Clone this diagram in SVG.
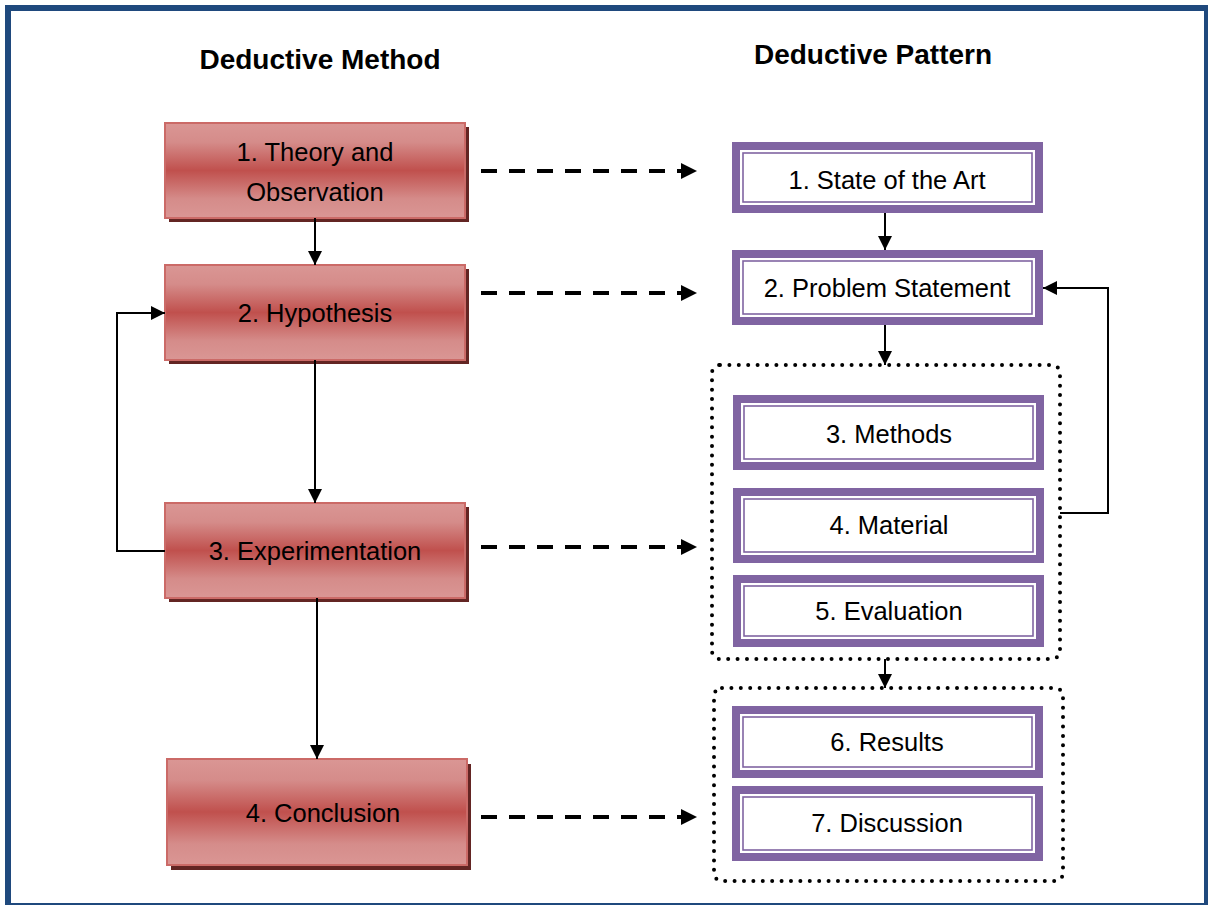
<svg xmlns="http://www.w3.org/2000/svg" width="1208" height="905" viewBox="0 0 1208 905">
  <defs>
    <linearGradient id="redFill" x1="0" y1="0" x2="0" y2="1">
      <stop offset="0" stop-color="#DA9694"/>
      <stop offset="0.2" stop-color="#D58C8A"/>
      <stop offset="0.5" stop-color="#C0504D"/>
      <stop offset="0.8" stop-color="#D58C8A"/>
      <stop offset="1" stop-color="#DA9694"/>
    </linearGradient>
    <marker id="headSolid" markerUnits="userSpaceOnUse" markerWidth="14" markerHeight="14" viewBox="0 0 14 14" refX="14" refY="7" orient="auto">
      <path d="M0,0 L14,7 L0,14 Z" fill="#000"/>
    </marker>
    <marker id="headDash" markerUnits="userSpaceOnUse" markerWidth="16" markerHeight="16" viewBox="0 0 16 16" refX="16" refY="8" orient="auto">
      <path d="M0,0 L16,8 L0,16 Z" fill="#000"/>
    </marker>
  </defs>
  <style>
    .title { font-family: "Liberation Sans", Arial, sans-serif; font-weight: bold; font-size: 28px; fill: #000; text-anchor: middle; }
    .lbl { font-family: "Liberation Sans", Arial, sans-serif; font-size: 25.5px; fill: #000; text-anchor: middle; }
    .shadow { fill: #632523; }
    .step { fill: url(#redFill); stroke: #CB6A67; stroke-width: 2; }
    .band { fill: #8064A2; }
    .inner { fill: #FFFFFF; }
    .thin { fill: none; stroke: #8064A2; stroke-width: 1.6; }
    .group { fill: none; stroke: #000; stroke-width: 4; stroke-linecap: round; stroke-dasharray: 0 9.4; }
    .solid { fill: none; stroke: #000; stroke-width: 2; marker-end: url(#headSolid); }
    .dash { fill: none; stroke: #000; stroke-width: 4; stroke-dasharray: 16 12; marker-end: url(#headDash); }
  </style>

  <!-- page frame -->
  <rect x="8" y="8" width="1199" height="898" fill="#FFFFFF" stroke="#1F497D" stroke-width="6"/>

  <!-- column headings -->
  <text class="title" x="320" y="69">Deductive Method</text>
  <text class="title" x="873" y="64">Deductive Pattern</text>

  <!-- dotted groupings -->
  <rect class="group" x="712" y="365" width="348" height="294" rx="8"/>
  <rect class="group" x="714" y="688" width="349" height="193" rx="8"/>

  <!-- method steps -->
  <g id="method-theory">
    <rect class="shadow" x="169" y="127" width="300" height="95"/>
    <rect class="step" x="165" y="123" width="300" height="95"/>
    <text class="lbl" x="315" y="161">1. Theory and</text>
    <text class="lbl" x="315" y="201">Observation</text>
  </g>
  <g id="method-hypothesis">
    <rect class="shadow" x="169" y="269" width="300" height="95"/>
    <rect class="step" x="165" y="265" width="300" height="95"/>
    <text class="lbl" x="315" y="322">2. Hypothesis</text>
  </g>
  <g id="method-experimentation">
    <rect class="shadow" x="169" y="507" width="300" height="95"/>
    <rect class="step" x="165" y="503" width="300" height="95"/>
    <text class="lbl" x="315" y="560">3. Experimentation</text>
  </g>
  <g id="method-conclusion">
    <rect class="shadow" x="171" y="764" width="300" height="106"/>
    <rect class="step" x="167" y="759" width="300" height="106"/>
    <text class="lbl" x="323" y="822">4. Conclusion</text>
  </g>

  <!-- pattern sections -->
  <g id="pattern-state">
    <rect class="band" x="732" y="142" width="311" height="71"/>
    <rect class="inner" x="740" y="150" width="295" height="55"/>
    <rect class="thin" x="743" y="153" width="289" height="49"/>
    <text class="lbl" x="887" y="189">1. State of the Art</text>
  </g>
  <g id="pattern-problem">
    <rect class="band" x="732" y="250" width="311" height="75"/>
    <rect class="inner" x="740" y="258" width="295" height="59"/>
    <rect class="thin" x="743" y="261" width="289" height="53"/>
    <text class="lbl" x="887" y="297">2. Problem Statement</text>
  </g>
  <g id="pattern-methods">
    <rect class="band" x="733" y="395" width="311" height="75"/>
    <rect class="inner" x="741" y="403" width="295" height="59"/>
    <rect class="thin" x="744" y="406" width="289" height="53"/>
    <text class="lbl" x="889" y="443">3. Methods</text>
  </g>
  <g id="pattern-material">
    <rect class="band" x="733" y="488" width="311" height="75"/>
    <rect class="inner" x="741" y="496" width="295" height="59"/>
    <rect class="thin" x="744" y="499" width="289" height="53"/>
    <text class="lbl" x="889" y="534">4. Material</text>
  </g>
  <g id="pattern-evaluation">
    <rect class="band" x="733" y="575" width="311" height="72"/>
    <rect class="inner" x="741" y="583" width="295" height="56"/>
    <rect class="thin" x="744" y="586" width="289" height="50"/>
    <text class="lbl" x="889" y="620">5. Evaluation</text>
  </g>
  <g id="pattern-results">
    <rect class="band" x="732" y="706" width="311" height="72"/>
    <rect class="inner" x="740" y="714" width="295" height="56"/>
    <rect class="thin" x="743" y="717" width="289" height="50"/>
    <text class="lbl" x="887" y="751">6. Results</text>
  </g>
  <g id="pattern-discussion">
    <rect class="band" x="732" y="786" width="311" height="75"/>
    <rect class="inner" x="740" y="794" width="295" height="59"/>
    <rect class="thin" x="743" y="797" width="289" height="53"/>
    <text class="lbl" x="887" y="832">7. Discussion</text>
  </g>

  <!-- connectors -->
  <g id="connectors">
    <line class="solid" x1="315" y1="218" x2="315" y2="265"/>
    <line class="solid" x1="315" y1="360" x2="315" y2="503"/>
    <line class="solid" x1="317" y1="598" x2="317" y2="759"/>
    <polyline class="solid" points="165,551 117,551 117,313 165,313"/>

    <line class="solid" x1="885" y1="213" x2="885" y2="250"/>
    <line class="solid" x1="885" y1="325" x2="885" y2="365"/>
    <line class="solid" x1="885" y1="659" x2="885" y2="688"/>
    <polyline class="solid" points="1060,513 1108,513 1108,288 1043,288"/>

    <line class="dash" x1="481" y1="171" x2="697" y2="171"/>
    <line class="dash" x1="481" y1="293" x2="697" y2="293"/>
    <line class="dash" x1="481" y1="547" x2="697" y2="547"/>
    <line class="dash" x1="481" y1="817" x2="697" y2="817"/>
  </g>
</svg>
